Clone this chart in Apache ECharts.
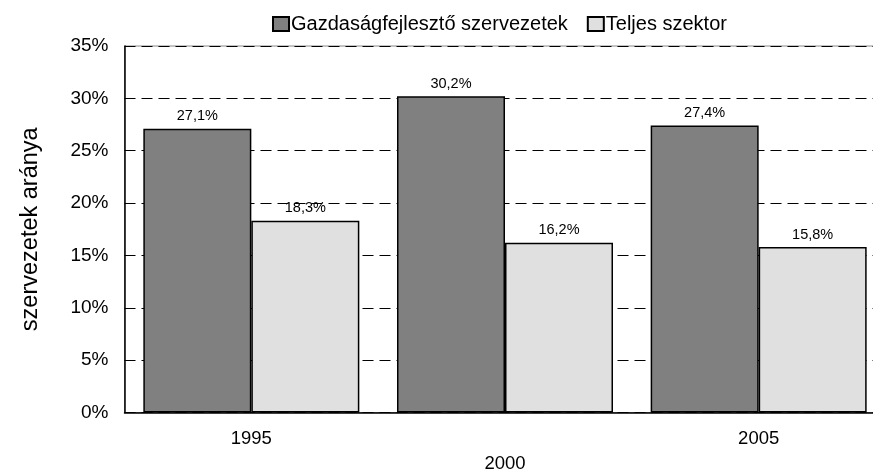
<!DOCTYPE html>
<html><head><meta charset="utf-8">
<script src="https://cdn.jsdelivr.net/npm/echarts@6/dist/echarts.min.js"></script>
<style>html,body{margin:0;padding:0;background:#fff}#c{width:873px;height:474px}</style>
</head><body><div id="c"></div>
<script>
const categories = ['1995', '2000', '2005'];
const seriesNames = ['Gazdaságfejlesztő szervezetek', 'Teljes szektor'];
const gazdasagfejleszto = [27.1, 30.2, 27.4];
const teljesSzektor = [18.3, 16.2, 15.8];
const yMin = 0, yMax = 35, yStep = 5;
const yTitle = 'szervezetek aránya';

const FONT = "'Liberation Sans', Arial, sans-serif";
const chart = echarts.init(document.getElementById('c'), null, {renderer: 'canvas'});
const lab = {
  show: true, position: 'top', distance: 5,
  color: '#000', fontFamily: FONT, fontSize: 14.5,
  formatter: p => p.value.toFixed(1).replace('.', ',') + '%'
};
chart.setOption({
  animation: false,
  backgroundColor: '#fff',
  textStyle: {fontFamily: FONT, color: '#000'},
  legend: {
    left: 272, top: 14, padding: 0, itemWidth: 16, itemHeight: 14, itemGap: 19,
    icon: 'rect',
    textStyle: {fontFamily: FONT, fontSize: 20, color: '#000', padding: [0, 0, 0, -3]},
    data: seriesNames
  },
  grid: {left: 124.5, top: 46, width: 761, height: 366.5, show: true, borderColor: '#888', borderWidth: 1, outerBoundsMode: 'none'},
  xAxis: {
    type: 'category', data: categories,
    axisLine: {lineStyle: {color: '#000', width: 1.5}},
    axisTick: {show: false},
    axisLabel: {
      color: '#000', fontFamily: FONT, fontSize: 18.5, lineHeight: 25, margin: 14,
      formatter: (v, i) => (i % 2 === 1 ? '\n' + v : v)
    }
  },
  yAxis: {
    type: 'value', min: yMin, max: yMax, interval: yStep,
    name: yTitle, nameLocation: 'middle', nameGap: 82, nameRotate: 90,
    nameTextStyle: {color: '#000', fontFamily: FONT, fontSize: 23.5},
    axisLine: {show: true, lineStyle: {color: '#000', width: 1.5}},
    axisTick: {show: false},
    axisLabel: {color: '#000', fontFamily: FONT, fontSize: 19, margin: 16, formatter: v => v + '%'},
    splitLine: {show: true, lineStyle: {color: '#000', width: 1.2, type: [11, 6]}}
  },
  series: [
    {
      name: seriesNames[0], type: 'bar', data: gazdasagfejleszto,
      barWidth: 108, barGap: '0%',
      itemStyle: {color: '#808080', borderColor: '#000', borderWidth: 1.5},
      label: lab
    },
    {
      name: seriesNames[1], type: 'bar', data: teljesSzektor,
      barWidth: 108, barGap: '0%',
      itemStyle: {color: '#e0e0e0', borderColor: '#000', borderWidth: 1.5},
      label: lab
    }
  ]
});
</script></body></html>
